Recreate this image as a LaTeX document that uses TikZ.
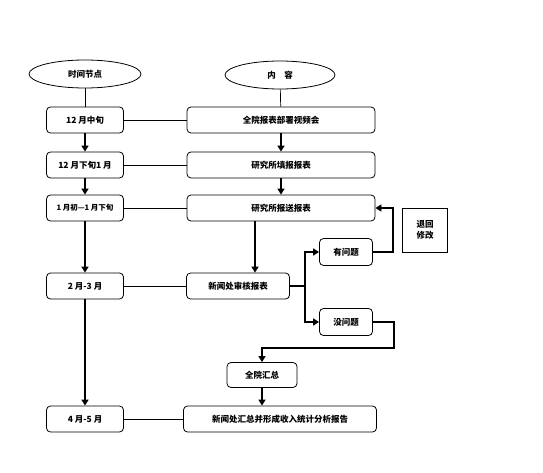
\documentclass[tikz,border=0pt]{standalone}
\usepackage{fontspec}
\newfontfamily\cjk{Noto Sans CJK SC}
\usetikzlibrary{arrows.meta,shapes.geometric}

\begin{document}
\begin{tikzpicture}[x=1pt,y=-1pt,
    every node/.style={font=\cjk\bfseries\fontsize{8.5}{11}\selectfont},
    head/.style={ellipse,draw,line width=0.8pt,minimum width=112pt,minimum height=28pt,inner sep=0pt},
    box/.style={draw,line width=0.8pt,rounded corners=4pt,minimum height=26pt,inner sep=0pt},
    flow/.style={line width=2pt,-{Triangle[length=6pt,width=7pt]}},
    link/.style={line width=0.7pt}]
    \useasboundingbox (0,0) rectangle (543,473);
    % heads
    \node[head] (th) at (85,74) {时间节点};
    \node[head,minimum width=110pt] (ch) at (280,75) {内\quad 容};
    % time column
    \node[box,minimum width=77pt] (t1) at (85,120) {12 月中旬};
    \node[box,minimum width=77pt] (t2) at (85,165) {12 月下旬1 月};
    \node[box,minimum width=77pt,font=\cjk\bfseries\fontsize{7.5}{10}\selectfont] (t3) at (85,208) {1 月初—1 月下旬};
    \node[box,minimum width=77pt] (t4) at (85,286) {2 月-3 月};
    \node[box,minimum width=77pt] (t5) at (85,419) {4 月-5 月};
    % content column
    \node[box,minimum width=188pt] (c1) at (281,120) {全院报表部署视频会};
    \node[box,minimum width=188pt] (c2) at (281,165) {研究所填报报表};
    \node[box,minimum width=188pt] (c3) at (281,208) {研究所报送报表};
    \node[box,minimum width=103pt] (c4) at (238,286) {新闻处审核报表};
    \node[box,minimum width=53pt,minimum height=27pt] (q1) at (346,252) {有问题};
    \node[box,minimum width=53pt,minimum height=27pt] (q2) at (346,322) {没问题};
    \node[draw,line width=0.8pt,minimum width=45pt,minimum height=44pt,align=center,inner sep=0pt] (back) at (425,230) {退回\\修改};
    \node[box,minimum width=70pt,minimum height=25pt] (c5) at (262,375) {全院汇总};
    \node[box,minimum width=193pt] (c6) at (280,419) {新闻处汇总并形成收入统计分析报告};
    % thin links
    \draw[link] (th) -- (t1);
    \draw[link] (ch) -- (c1);
    \draw[link] (t1) -- (c1);
    \draw[link] (t2) -- (c2);
    \draw[link] (t3) -- (c3);
    \draw[link] (t4) -- (c4);
    \draw[link] (t5) -- (c6);
    % flow
    \draw[flow] (t1) -- (t2);
    \draw[flow] (t2) -- (t3);
    \draw[flow] (t3) -- (t4);
    \draw[flow] (t4) -- (t5);
    \draw[flow] (c1) -- (c2);
    \draw[flow] (c2) -- (c3);
    \draw[flow] ([xshift=-26pt]c3.south) -- ([xshift=-26pt]c3.south |- c4.north);
    \coordinate (fork) at (305,286);
    \draw[line width=2pt] (c4.east) -- (fork);
    \draw[flow] (fork) |- (q1);
    \draw[flow] (fork) |- (q2);
    \draw[flow] (q1.east) -- ++(20,0) |- (c3.east);
    \draw[flow] (q2.east) -- ++(21,0) -- ++(0,26) -| (c5.north);
    \draw[flow] (c5) -- (c5 |- c6.north);
\end{tikzpicture}
\end{document}
